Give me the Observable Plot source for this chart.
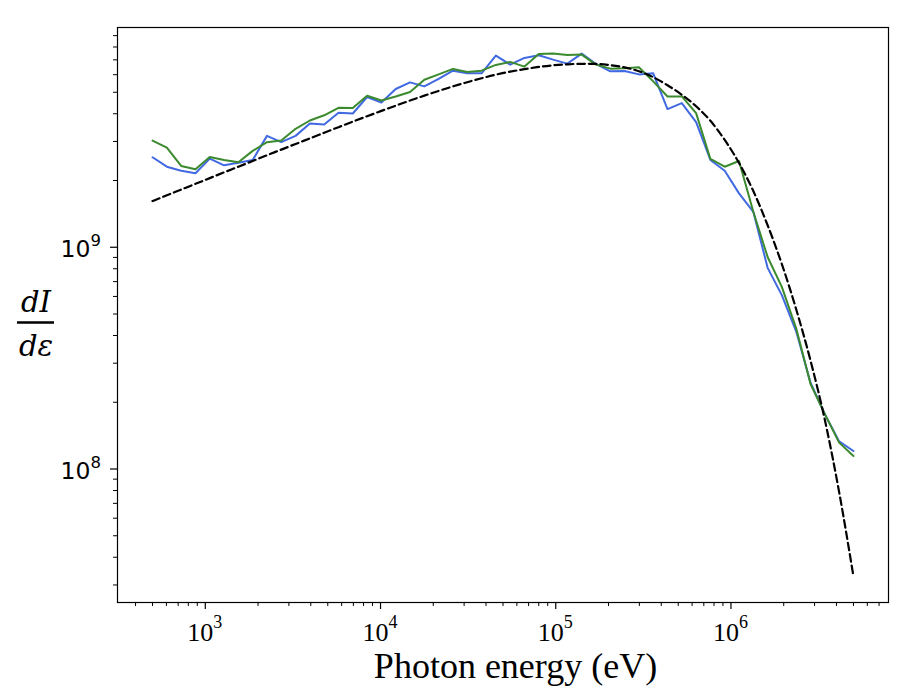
<!DOCTYPE html>
<html><head><meta charset="utf-8">
<script src="https://cdn.jsdelivr.net/npm/d3@7"></script>
<script src="https://cdn.jsdelivr.net/npm/@observablehq/plot@0.6"></script>
<style>
body{margin:0;background:#fff;}
#wrap{position:relative;width:908px;height:700px;}
</style></head><body><div id="wrap"></div>
<script>
const energy = [500,603.4,728.2,878.8,1060.5,1279.8,1544.5,1863.9,2249.4,2714.6,3275.5,3953,4770.6,5757,6947.7,8384,10118,12211,14736,17783,21461,25900,31256,37720,45520,54934,66293,80003,96537,116500,140600,169670,204750,247100,298200,359900,434300,524100,632500,763300,921000,1111600,1341400,1618800,1953500,2357600,2845000,3433000,4143000,5000000];
const seriesBlue = [2.546e9,2.308e9,2.214e9,2.156e9,2.509e9,2.342e9,2.406e9,2.475e9,3.179e9,2.977e9,3.179e9,3.614e9,3.576e9,4.040e9,4.011e9,4.757e9,4.497e9,5.171e9,5.539e9,5.313e9,5.739e9,6.258e9,6.084e9,6.084e9,7.316e9,6.662e9,7.142e9,7.338e9,7.018e9,6.731e9,7.470e9,6.709e9,6.212e9,6.237e9,6.020e9,6.084e9,4.199e9,4.469e9,3.667e9,2.475e9,2.214e9,1.750e9,1.445e9,8.075e8,6.065e8,4.168e8,2.449e8,1.768e8,1.332e8,1.206e8];
const seriesGreen = [3.027e9,2.814e9,2.326e9,2.247e9,2.554e9,2.475e9,2.417e9,2.720e9,2.977e9,3.027e9,3.420e9,3.729e9,3.936e9,4.256e9,4.242e9,4.823e9,4.592e9,4.787e9,5.012e9,5.697e9,6.020e9,6.371e9,6.173e9,6.258e9,6.642e9,6.852e9,6.525e9,7.446e9,7.470e9,7.369e9,7.393e9,6.662e9,6.390e9,6.410e9,6.477e9,5.598e9,4.787e9,4.787e9,4.027e9,2.501e9,2.308e9,2.449e9,1.445e9,9.040e8,6.614e8,4.300e8,2.417e8,1.768e8,1.315e8,1.145e8];
const fitCurve = [1.615e9,1.715e9,1.820e9,1.932e9,2.050e9,2.176e9,2.308e9,2.449e9,2.600e9,2.756e9,2.922e9,3.097e9,3.283e9,3.480e9,3.686e9,3.899e9,4.120e9,4.350e9,4.587e9,4.828e9,5.070e9,5.313e9,5.551e9,5.781e9,6.002e9,6.193e9,6.357e9,6.504e9,6.614e9,6.683e9,6.717e9,6.711e9,6.628e9,6.471e9,6.224e9,5.848e9,5.380e9,4.873e9,4.322e9,3.717e9,3.049e9,2.399e9,1.792e9,1.257e9,8.377e8,5.243e8,3.081e8,1.666e8,7.867e7,3.280e7];

const xTicks = [1e3, 1e4, 1e5, 1e6];
const xTickLabels = [["10", "3"], ["10", "4"], ["10", "5"], ["10", "6"]];
const yTicks = [1e8, 1e9];
const yTickLabels = [["10", "8"], ["10", "9"]];
const xLabel = "Photon energy (eV)";
const yLabelNum = "dI";
const yLabelDen = "dε";

const xDomain = [10 ** 2.499, 10 ** 6.899];
const yDomain = [10 ** 7.398, 10 ** 9.991];
const minorTicks = (lo, hi) => {
  const out = [];
  for (let e = Math.floor(Math.log10(lo)); e <= Math.ceil(Math.log10(hi)); e++)
    for (let m = 2; m <= 9; m++) { const v = m * 10 ** e; if (v >= lo && v <= hi) out.push(v); }
  return out;
};
const xMinor = minorTicks(...xDomain);
const yMinor = minorTicks(...yDomain);

const rows = energy.map((e, i) => ({e, blue: seriesBlue[i], green: seriesGreen[i], fit: fitCurve[i]}));

const mL = 117, mR = 20, mT = 27, mB = 98, W = 908, H = 700;
const chart = Plot.plot({
  width: W, height: H,
  marginLeft: mL, marginRight: mR, marginTop: mT, marginBottom: mB,
  style: {background: "#fff", overflow: "visible"},
  x: {type: "log", domain: xDomain, label: null},
  y: {type: "log", domain: yDomain, label: null},
  marks: [
    Plot.axisX(xMinor, {tickSize: 4, tickFormat: () => "", strokeWidth: 1}),
    Plot.axisX(xTicks, {tickSize: 7, tickFormat: () => "", strokeWidth: 1.2}),
    Plot.axisY(yMinor, {tickSize: 4, tickFormat: () => "", strokeWidth: 1}),
    Plot.axisY(yTicks, {tickSize: 7, tickFormat: () => "", strokeWidth: 1.2}),
    Plot.line(rows, {x: "e", y: "blue", stroke: "#4169e1", strokeWidth: 2}),
    Plot.line(rows, {x: "e", y: "green", stroke: "#3b8a2e", strokeWidth: 2}),
    Plot.line(rows, {x: "e", y: "fit", stroke: "#000", strokeWidth: 2.2, strokeDasharray: "7.5,4", curve: "monotone-x"}),
    Plot.frame({stroke: "#000", strokeWidth: 1.2})
  ]
});
document.getElementById("wrap").append(chart);

const svg = d3.select(chart);
const sx = chart.scale("x"), sy = chart.scale("y");
const g = svg.append("g").attr("fill", "#000");

// x tick labels: 10^n, centred under each major tick
xTicks.forEach((d, i) => {
  const t = g.append("text").attr("x", sx.apply(d)).attr("y", H - mB + 39)
    .attr("text-anchor", "middle").attr("font-family", "Liberation Serif").attr("font-size", 26);
  t.append("tspan").text(xTickLabels[i][0]);
  t.append("tspan").attr("dy", -13).attr("font-size", 18).text(xTickLabels[i][1]);
});
// y tick labels
yTicks.forEach((d, i) => {
  const t = g.append("text").attr("x", mL - 16).attr("y", sy.apply(d) + 10)
    .attr("text-anchor", "end").attr("font-family", "DejaVu Sans").attr("font-size", 23.5);
  t.append("tspan").text(yTickLabels[i][0]);
  t.append("tspan").attr("dy", -11).attr("font-size", 16.5).text(yTickLabels[i][1]);
});
// x axis title
g.append("text").attr("x", (mL + W - mR) / 2 + 13).attr("y", H - mB + 76)
  .attr("text-anchor", "middle").attr("font-family", "Liberation Serif").attr("font-size", 36).text(xLabel);
// y axis title as a fraction
const cy = (mT + H - mB) / 2 + 8;
g.append("text").attr("x", 36).attr("y", cy - 11).attr("text-anchor", "middle")
  .attr("font-family", "DejaVu Serif").attr("font-style", "italic").attr("font-size", 29).text(yLabelNum);
g.append("line").attr("x1", 17).attr("x2", 54).attr("y1", cy).attr("y2", cy).attr("stroke", "#000").attr("stroke-width", 2.5);
g.append("text").attr("x", 36).attr("y", cy + 33).attr("text-anchor", "middle")
  .attr("font-family", "DejaVu Serif").attr("font-style", "italic").attr("font-size", 29).text(yLabelDen);
</script>
</body></html>
